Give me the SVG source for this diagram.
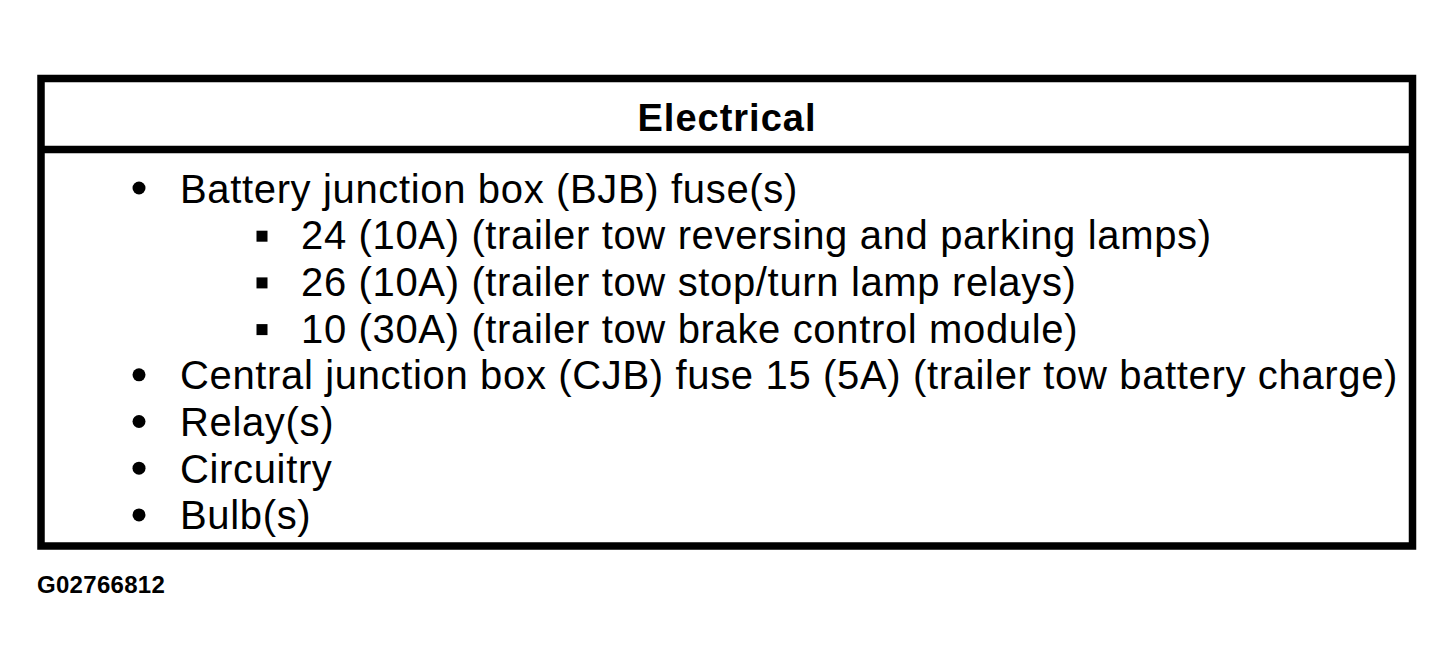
<svg xmlns="http://www.w3.org/2000/svg" width="1453" height="670" viewBox="0 0 1453 670">
<style>
.t{font-family:"Liberation Sans",Arial,sans-serif;font-size:40px;fill:#000;letter-spacing:0.65px}
.h{font-family:"Liberation Sans",Arial,sans-serif;font-size:38px;font-weight:bold;fill:#000;letter-spacing:1px}
.id{font-family:"Liberation Sans",Arial,sans-serif;font-size:24px;font-weight:bold;fill:#000;letter-spacing:0.3px}
.b{stroke:#000;stroke-width:7.5;fill:none}
</style>
<rect width="1453" height="670" fill="#fff"/>
<g id="table">
<rect class="b" x="41" y="78.5" width="1371.5" height="467.5"/>
<line class="b" x1="41" y1="149.5" x2="1412.5" y2="149.5"/>
</g>
<g id="header">
<text class="h" x="727" y="130.5" text-anchor="middle">Electrical</text>
</g>
<g id="list">
<circle cx="139" cy="188" r="6.5"/>
<text class="t" x="180" y="202.5">Battery junction box (BJB) fuse(s)</text>
<rect x="256.5" y="230.7" width="11" height="11"/>
<text class="t" x="301" y="249.2">24 (10A) (trailer tow reversing and parking lamps)</text>
<rect x="256.5" y="277.4" width="11" height="11"/>
<text class="t" x="301" y="295.9">26 (10A) (trailer tow stop/turn lamp relays)</text>
<rect x="256.5" y="324.1" width="11" height="11"/>
<text class="t" x="301" y="342.6">10 (30A) (trailer tow brake control module)</text>
<circle cx="139" cy="374.8" r="6.5"/>
<text class="t" x="180" y="389.3">Central junction box (CJB) fuse 15 (5A) (trailer tow battery charge)</text>
<circle cx="139" cy="421.5" r="6.5"/>
<text class="t" x="180" y="436">Relay(s)</text>
<circle cx="139" cy="468.2" r="6.5"/>
<text class="t" x="180" y="482.7">Circuitry</text>
<circle cx="139" cy="514.9" r="6.5"/>
<text class="t" x="180" y="529.4">Bulb(s)</text>
</g>
<text class="id" x="37" y="593">G02766812</text>
</svg>
